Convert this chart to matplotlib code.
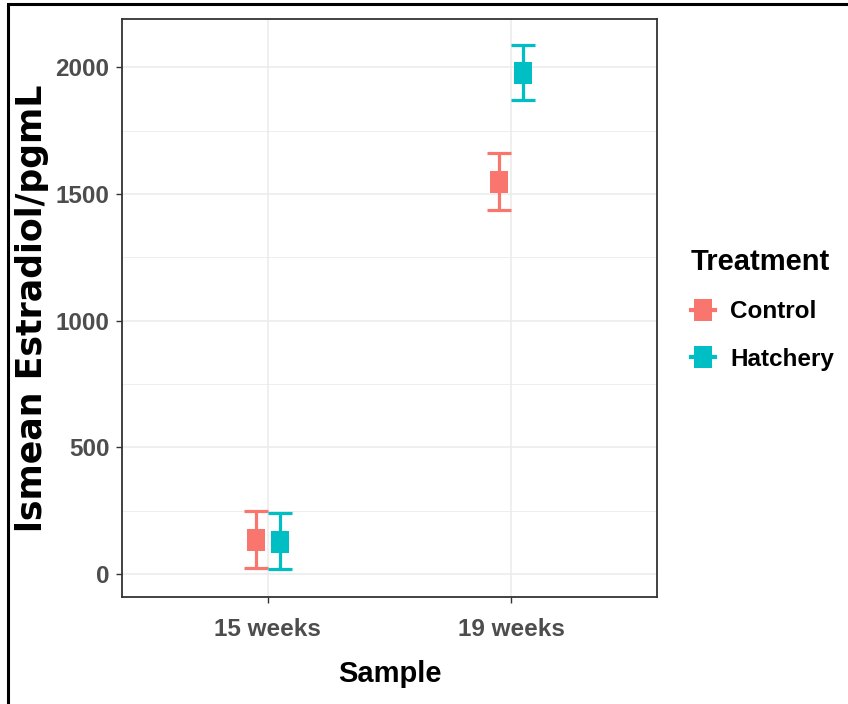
import matplotlib
matplotlib.use("Agg")
from matplotlib import pyplot as plt
from matplotlib.lines import Line2D
from matplotlib.patches import Rectangle
import numpy as np

# data
samples = ["15 weeks", "19 weeks"]
treatments = ["Control", "Hatchery"]
colores = ["#F8766D", "#00BFC4"]
medias = {"Control": [135, 1548], "Hatchery": [128, 1978]}
inferior = {"Control": [25, 1437], "Hatchery": [20, 1871]}
superior = {"Control": [248, 1662], "Hatchery": [240, 2088]}
desplazamiento = [-0.05, 0.05]

fuente = ["Liberation Sans", "DejaVu Sans"]

fig = plt.figure(figsize=(8.48, 7.04), dpi=100)
ax = fig.add_axes([122/848, 1 - 597/704, (657 - 122)/848, (597 - 19)/704])

# rectangular marker (taller than wide)
rect = [(-0.78, -1), (0.78, -1), (0.78, 1), (-0.78, 1), (-0.78, -1)]

x = np.arange(1, len(samples) + 1)
for t, c, d in zip(treatments, colores, desplazamiento):
    m = np.array(medias[t])
    lo = m - np.array(inferior[t])
    hi = np.array(superior[t]) - m
    ax.errorbar(x + d, m, yerr=[lo, hi], fmt="none", ecolor=c,
                elinewidth=2.3, capsize=8.3, capthick=2.3, zorder=3)
    ax.plot(x + d, m, linestyle="none", marker=rect, markersize=16.5,
            color=c, markeredgewidth=0, zorder=4)

ax.set_xlim(0.4, 2.6)
ax.set_ylim(-91, 2191)
ax.set_xticks(x)
ax.set_xticklabels(samples)
ax.set_yticks([0, 500, 1000, 1500, 2000])
ax.set_yticks([250, 750, 1250, 1750], minor=True)

ax.grid(True, which="major", color="#EBEBEB", linewidth=1.1, zorder=0)
ax.grid(True, which="minor", axis="y", color="#EBEBEB", linewidth=0.6, zorder=0)
ax.set_axisbelow(True)
for s in ax.spines.values():
    s.set_color("#333333")
    s.set_linewidth(1.3)

ax.tick_params(which="major", length=4, width=1, color="#333333",
               labelcolor="#4D4D4D", labelsize=17.5)
ax.tick_params(axis="x", pad=11)
ax.tick_params(axis="y", pad=5)
ax.tick_params(which="minor", length=0)
for lab in ax.get_xticklabels() + ax.get_yticklabels():
    lab.set_family(fuente)
    lab.set_fontweight("bold")

ax.set_xlabel("Sample", family=fuente, fontweight="bold", fontsize=21,
              color="black", labelpad=14)
ax.set_ylabel("lsmean Estradiol/pgmL", family=["DejaVu Sans"], fontweight="bold",
              fontsize=25, color="black")
ax.yaxis.set_label_coords(-0.137, 0.5)

# legend
handles = [Line2D([], [], color=c, marker=rect, markersize=16.5, lw=3,
                  markeredgewidth=0) for c in colores]
leg = fig.legend(handles, treatments, title="Treatment", loc="upper left",
                 bbox_to_anchor=(691/848, 1 - 248/704), frameon=False,
                 borderpad=0, borderaxespad=0,
                 handlelength=1.0, handletextpad=0.6, labelspacing=1.0,
                 prop={"family": fuente, "weight": "bold", "size": 17.5},
                 title_fontproperties={"family": fuente, "weight": "bold", "size": 21},
                 alignment="left")

# outer frame of the picture
fig.patches.append(Rectangle((8/848, -0.1), 1.2, 1.1 - 4/704, transform=fig.transFigure,
                             fill=False, edgecolor="black", linewidth=2.2))

plt.savefig("out.png", dpi=100)
